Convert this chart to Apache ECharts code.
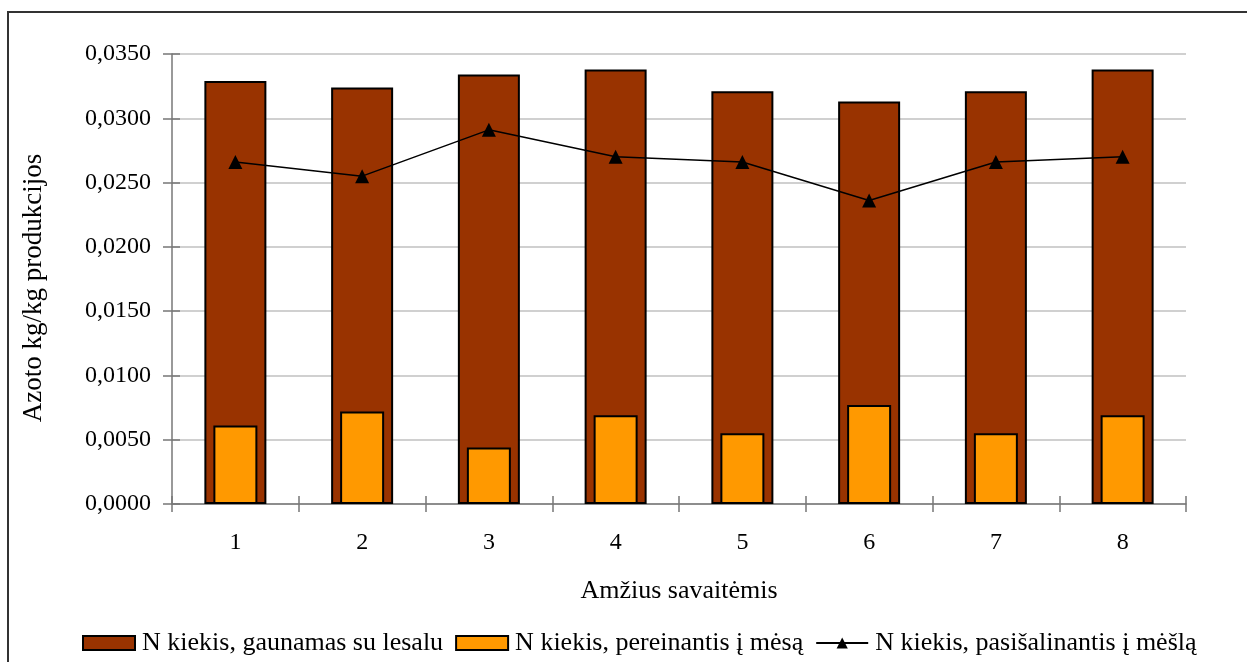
<!DOCTYPE html>
<html>
<head>
<meta charset="utf-8">
<script src="https://cdn.jsdelivr.net/npm/echarts@6/dist/echarts.min.js"></script>
<style>
html,body{margin:0;padding:0;background:#fff;}
#chart{width:1247px;height:662px;}
</style>
</head>
<body>
<div id="chart"></div>
<script>
// Weeks of age and nitrogen amounts (kg N per kg of product)
const weeks = ['1', '2', '3', '4', '5', '6', '7', '8'];
const feedN = [0.0329, 0.0324, 0.0334, 0.0338, 0.0321, 0.0313, 0.0321, 0.0338];
const meatN = [0.0061, 0.0072, 0.0044, 0.0069, 0.0055, 0.0077, 0.0055, 0.0069];
const manureN = [0.0266, 0.0255, 0.0291, 0.0270, 0.0266, 0.0236, 0.0266, 0.0270];
const seriesNames = [
  'N kiekis, gaunamas su lesalu',
  'N kiekis, pereinantis į mėsą',
  'N kiekis, pasišalinantis į mėšlą'
];

const font = 'Liberation Serif, Times New Roman, serif';
const chart = echarts.init(document.getElementById('chart'));

const yBase = { type: 'value', min: 0, max: 0.035, interval: 0.005 };

chart.setOption({
  animation: false,
  backgroundColor: '#fff',
  textStyle: { fontFamily: font, color: '#000' },
  graphic: [{
    type: 'rect',
    shape: { x: 8, y: 12, width: 1300, height: 700 },
    style: { fill: 'none', stroke: '#333', lineWidth: 2 },
    silent: true
  }],
  grid: { left: 172, right: 61, top: 54, bottom: 158 },
  legend: {
    left: 77,
    top: 625,
    itemWidth: 52,
    itemHeight: 14,
    itemGap: 12,
    textStyle: { fontFamily: font, fontSize: 26, color: '#000', padding: [0, 0, 0, 2] },
    data: [
      { name: seriesNames[0], icon: 'rect' },
      { name: seriesNames[1], icon: 'rect' },
      { name: seriesNames[2] }
    ]
  },
  xAxis: [
    {
      type: 'category',
      data: weeks,
      boundaryGap: true,
      name: 'Amžius savaitėmis',
      nameLocation: 'middle',
      nameGap: 74,
      nameTextStyle: { fontFamily: font, fontSize: 26, color: '#000' },
      axisLine: { lineStyle: { color: '#777', width: 1.5 } },
      axisTick: { show: true, length: 8, alignWithLabel: false, lineStyle: { color: '#777', width: 1.5 } },
      axisLabel: { fontFamily: font, fontSize: 24, color: '#000', margin: 27 },
      splitLine: { show: false }
    },
    {
      type: 'category',
      data: weeks,
      boundaryGap: true,
      position: 'bottom',
      axisLine: { show: false },
      axisTick: { show: true, inside: true, length: 8, lineStyle: { color: '#777', width: 1.5 } },
      axisLabel: { show: false },
      splitLine: { show: false }
    }
  ],
  yAxis: [
    Object.assign({}, yBase, {
      name: 'Azoto kg/kg produkcijos',
      nameLocation: 'middle',
      nameGap: 125,
      nameTextStyle: { fontFamily: font, fontSize: 27, color: '#000', padding: [0, 18, 0, 0] },
      axisLine: { show: true, lineStyle: { color: '#777', width: 1.5 } },
      axisTick: { show: true, length: 9, lineStyle: { color: '#777', width: 1.5 } },
      axisLabel: {
        fontFamily: font, fontSize: 24, color: '#000', margin: 21,
        formatter: v => v.toFixed(4).replace('.', ',')
      },
      splitLine: { show: true, lineStyle: { color: '#c0c0c0', width: 1.5 } }
    }),
    Object.assign({}, yBase, {
      position: 'left',
      axisLine: { show: false },
      axisTick: { show: true, inside: true, length: 8, lineStyle: { color: '#777', width: 1.5 } },
      axisLabel: { show: false },
      splitLine: { show: false }
    })
  ],
  series: [
    {
      name: seriesNames[0],
      type: 'bar',
      xAxisIndex: 0,
      yAxisIndex: 0,
      data: feedN,
      barWidth: 62,
      itemStyle: { color: '#993300', borderColor: '#000', borderWidth: 2 },
      z: 2
    },
    {
      name: seriesNames[1],
      type: 'bar',
      xAxisIndex: 1,
      yAxisIndex: 0,
      data: meatN,
      barWidth: 44,
      itemStyle: { color: '#FF9900', borderColor: '#000', borderWidth: 2 },
      z: 3
    },
    {
      name: seriesNames[2],
      type: 'line',
      xAxisIndex: 0,
      yAxisIndex: 0,
      data: manureN,
      symbol: 'triangle',
      symbolSize: 14,
      lineStyle: { color: '#000', width: 1.5 },
      itemStyle: { color: '#000' },
      z: 4
    }
  ]
});
</script>
</body>
</html>
